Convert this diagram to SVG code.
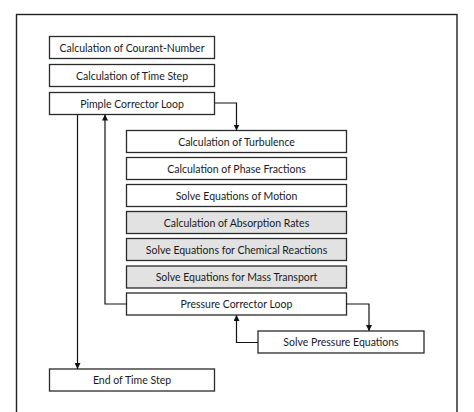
<svg xmlns="http://www.w3.org/2000/svg" width="474" height="412" viewBox="0 0 474 412">
<defs>
<marker id="ah" viewBox="0 0 10 10" refX="10" refY="5" markerWidth="6" markerHeight="6" markerUnits="userSpaceOnUse" orient="auto"><path d="M0,0 L10,5 L0,10 z" fill="#111"/></marker>
<style>
.box{fill:#fff;stroke:#2a2a2a;stroke-width:1.3}
.g{fill:#e2e2e2}
.t{font-family:Lato,"Liberation Sans",sans-serif;font-size:10.5px;fill:#1a1a1a;text-anchor:middle;dominant-baseline:central}
.c{fill:none;stroke:#111;stroke-width:1.2}
.a{marker-end:url(#ah)}
</style>
</defs>
<rect width="474" height="412" fill="#fff"/>
<rect x="16.5" y="14.5" width="440.5" height="410" fill="none" stroke="#222" stroke-width="1.4"/>
<g id="courant"><rect class="box" x="49.5" y="36.5" width="165" height="22"/><text class="t" x="132" y="47.5">Calculation of Courant-Number</text></g>
<g id="timestep"><rect class="box" x="49.5" y="64.5" width="165" height="22"/><text class="t" x="132" y="75.5">Calculation of Time Step</text></g>
<g id="pimple"><rect class="box" x="49.5" y="92.5" width="165" height="22"/><text class="t" x="132" y="103.5">Pimple Corrector Loop</text></g>
<g id="turbulence"><rect class="box" x="126.5" y="130.5" width="220" height="22"/><text class="t" x="236.5" y="141.5">Calculation of Turbulence</text></g>
<g id="phase"><rect class="box" x="126.5" y="157.5" width="220" height="22"/><text class="t" x="236.5" y="168.5">Calculation of Phase Fractions</text></g>
<g id="motion"><rect class="box" x="126.5" y="184.5" width="220" height="22"/><text class="t" x="236.5" y="195.5">Solve Equations of Motion</text></g>
<g id="absorption"><rect class="box g" x="126.5" y="211.5" width="220" height="22"/><text class="t" x="236.5" y="222.5">Calculation of Absorption Rates</text></g>
<g id="chemical"><rect class="box g" x="126.5" y="238.5" width="220" height="22"/><text class="t" x="236.5" y="249.5">Solve Equations for Chemical Reactions</text></g>
<g id="mass"><rect class="box g" x="126.5" y="266" width="220" height="22"/><text class="t" x="236.5" y="277">Solve Equations for Mass Transport</text></g>
<g id="pressure"><rect class="box" x="126.5" y="293" width="220" height="22"/><text class="t" x="236.5" y="304">Pressure Corrector Loop</text></g>
<g id="solvepressure"><rect class="box" x="258" y="331" width="166" height="22"/><text class="t" x="341" y="342">Solve Pressure Equations</text></g>
<g id="endstep"><rect class="box" x="49.5" y="369" width="165" height="22"/><text class="t" x="132" y="380">End of Time Step</text></g>
<g id="connectors">
<path class="c a" d="M214.5,103 H236.5 V130.5"/>
<path class="c a" d="M77.5,114.5 V369"/>
<path class="c a" d="M126.5,304 H105 V114.5"/>
<path class="c a" d="M346.5,304 H369 V331"/>
<path class="c a" d="M258,342.5 H236.5 V315"/>
</g>
</svg>
